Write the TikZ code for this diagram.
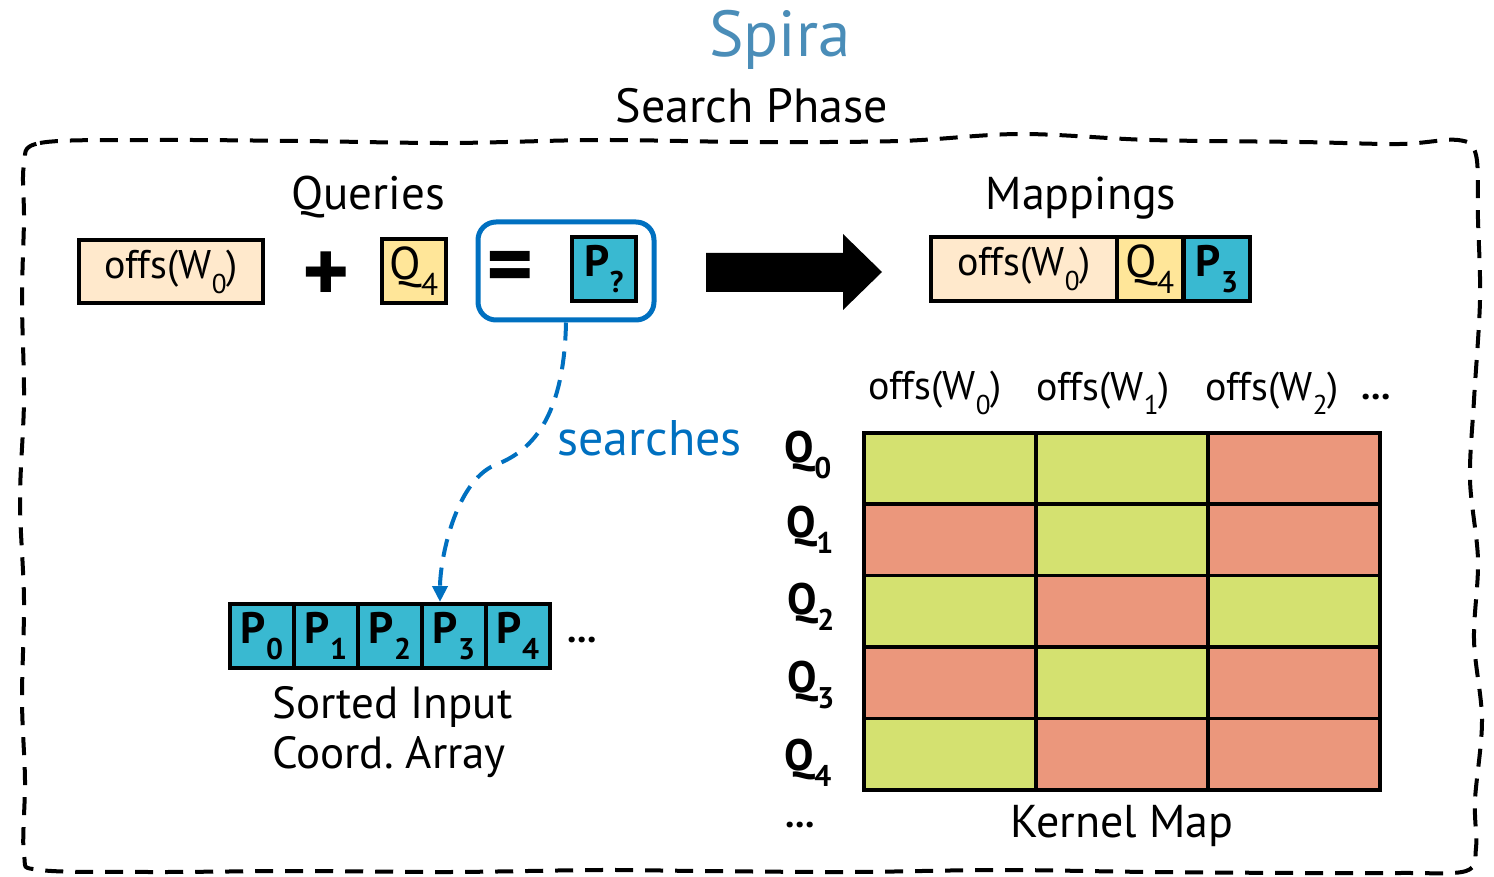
\documentclass[tikz,border=0pt]{standalone}
\usepackage{fontspec}
\setmainfont{PT Sans}
\usetikzlibrary{arrows.meta,calc}
\definecolor{peach}{HTML}{FFE9CC}
\definecolor{qyellow}{HTML}{FFE699}
\definecolor{pteal}{HTML}{39B9D1}
\definecolor{okgreen}{HTML}{D4E170}
\definecolor{nosalmon}{HTML}{EB977C}
\definecolor{searchblue}{HTML}{0070C0}
\definecolor{titleblue}{HTML}{4A8DB8}
\newcommand{\lowr}[1]{\raisebox{-0.36em}{\scalebox{0.68}{#1}}}
\newcommand{\fs}[1]{\fontsize{#1}{#1}\selectfont}
\begin{document}
\begin{tikzpicture}[x=1pt,y=-1pt,
  cellbox/.style={draw=black,line width=4pt,inner sep=0pt,anchor=center},
  kmcell/.style={draw=black,line width=3.5pt,inner sep=0pt,minimum width=172pt,minimum height=71.4pt,anchor=north west},
  lbl/.style={inner sep=0pt,anchor=center}]
\useasboundingbox (0,0) rectangle (1494,877);

% titles
\node[lbl,text=titleblue] (title) at (780,40) {\fs{65}Spira};
\node[lbl] (phase) at (752,106) {\fs{48}Search Phase};

% wobbly dashed frame
\draw[line width=4pt,dash pattern=on 18pt off 12pt,line cap=butt]
  plot[smooth cycle,tension=0.55] coordinates {
  (24,165) (40,143) (150,140) (300,141) (450,143) (600,140) (750,142)
  (900,141) (1020,134) (1150,140) (1300,142) (1400,144) (1458,140)
  (1476,155) (1478,220) (1480,300) (1474,400) (1470,480) (1478,560)
  (1474,640) (1482,720) (1475,800) (1476,848) (1466,871) (1400,873)
  (1300,873) (1150,872) (1000,870) (850,872) (700,871) (600,870)
  (450,872) (300,871) (150,872) (40,870) (24,855) (25,780) (22,700)
  (24,600) (20,500) (24,400) (22,300) (24,220)};

% query equation
\node[lbl] (queries) at (368,197) {\fs{47}Queries};
\node[cellbox,fill=peach,minimum width=184pt,minimum height=63pt] (offq) at (171,272) {\fs{40}offs(W\lowr{0})};
\node[lbl] (plus) at (326,277) {\fs{90}\textbf{+}};
\node[cellbox,fill=qyellow,minimum width=64pt,minimum height=64pt] (qq) at (414,271) {\fs{46}Q\lowr{4}};
\node[draw=searchblue,line width=5pt,rounded corners=18pt,minimum width=176pt,minimum height=98pt,inner sep=0pt] (eqbox) at (566,271) {};
\node[lbl] (equals) at (510,273) {\fs{90}\textbf{=}};
\node[cellbox,fill=pteal,minimum width=64pt,minimum height=64pt] (pq) at (604,269) {\fs{44}\textbf{P\lowr{?}}};

% big result arrow
\fill[black] (706,253) -- (843,253) -- (843,234) -- (882,272) -- (843,310) -- (843,292) -- (706,292) -- cycle;

% mapping entry
\node[lbl] (mappings) at (1081,198) {\fs{46}Mappings};
\node[cellbox,fill=peach,minimum width=186pt,minimum height=64pt] (mo) at (1024,269) {\fs{40}offs(W\lowr{0})};
\node[cellbox,fill=qyellow,minimum width=66pt,minimum height=64pt] (mq) at (1150,269) {\fs{46}Q\lowr{4}};
\node[cellbox,fill=pteal,minimum width=66pt,minimum height=64pt] (mp) at (1217,269) {\fs{44}\textbf{P\lowr{3}}};

% sorted input coordinate array
\foreach \i in {0,...,4}{
  \node[cellbox,fill=pteal,minimum width=64pt,minimum height=64pt] (p\i) at (262+64*\i,636) {\fs{44}\textbf{P\lowr{\i}}};
}
\node[lbl] (pdots) at (582,640) {\fs{38}\textbf{...}};
\node[inner sep=0pt,anchor=north west,align=left] (sortlbl) at (272,686) {\fs{45}Sorted Input\\[8pt]\fs{45}Coord.\ Array};

% search connector
\draw[searchblue,line width=4pt,dash pattern=on 18pt off 11pt,-{Triangle[length=16pt,width=15pt]}]
  (eqbox.south) .. controls (564,420) and (530,452) .. (495,465)
  .. controls (455,482) and (440,560) .. ([xshift=-14pt]p3.north);
\node[lbl,anchor=west,text=searchblue] (searches) at (557,438) {\fs{50}searches};

% kernel map
\node[lbl] (h0) at (935,393) {\fs{40}offs(W\lowr{0})};
\node[lbl] (h1) at (1103,393) {\fs{40}offs(W\lowr{1})};
\node[lbl] (h2) at (1272,393) {\fs{40}offs(W\lowr{2})};
\node[lbl] (hdots) at (1376,397) {\fs{38}\textbf{...}};
\foreach \r/\ca/\cb/\cc in {0/okgreen/okgreen/nosalmon,1/nosalmon/okgreen/nosalmon,2/okgreen/nosalmon/okgreen,3/nosalmon/okgreen/nosalmon,4/okgreen/nosalmon/nosalmon}{
  \node[kmcell,fill=\ca] (k\r a) at (862,431+71.4*\r) {};
  \node[kmcell,fill=\cb] (k\r b) at (1034,431+71.4*\r) {};
  \node[kmcell,fill=\cc] (k\r c) at (1206,431+71.4*\r) {};
}
\node[lbl] (q0) at (808,455) {\fs{44}\textbf{Q\lowr{0}}};
\node[lbl] (q1) at (810,530) {\fs{44}\textbf{Q\lowr{1}}};
\node[lbl] (q2) at (811,607) {\fs{44}\textbf{Q\lowr{2}}};
\node[lbl] (q3) at (811,685) {\fs{44}\textbf{Q\lowr{3}}};
\node[lbl] (q4) at (808,763) {\fs{44}\textbf{Q\lowr{4}}};
\node[lbl] (qdots) at (800,825) {\fs{38}\textbf{...}};
\node[lbl] (kmlbl) at (1122,826) {\fs{46}Kernel Map};
\end{tikzpicture}
\end{document}
